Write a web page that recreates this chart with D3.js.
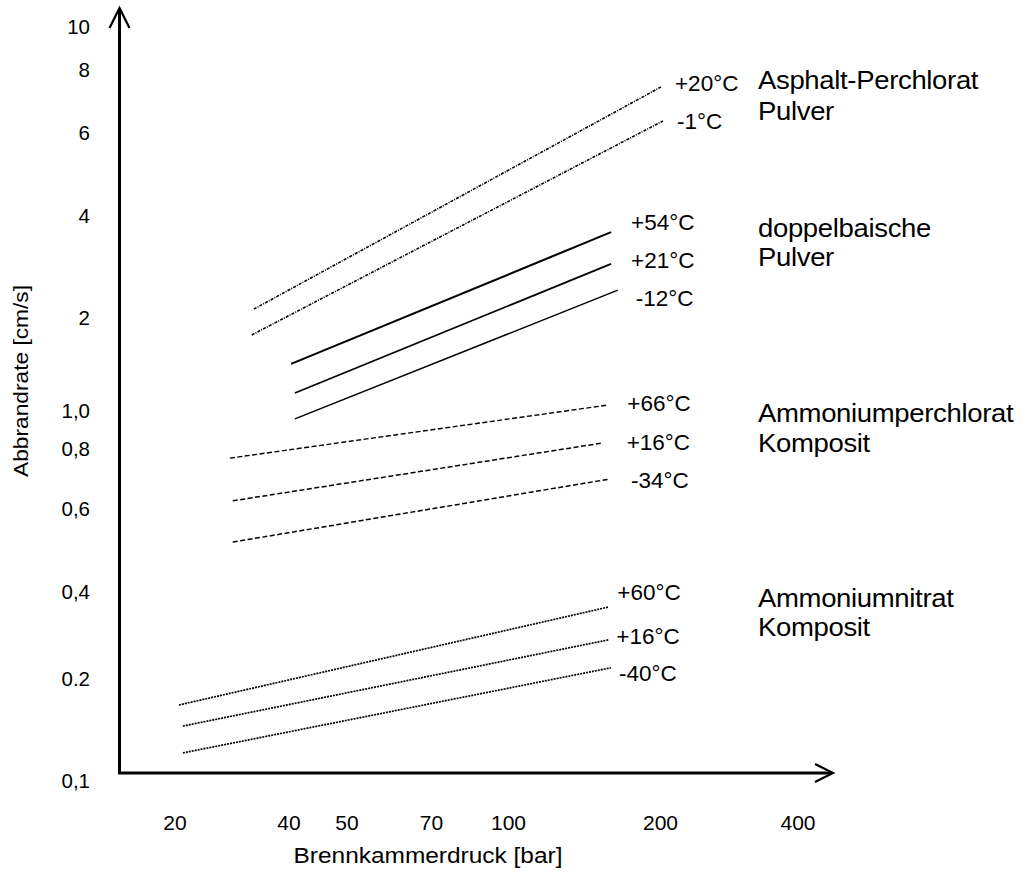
<!DOCTYPE html>
<html>
<head>
<meta charset="utf-8">
<script src="https://cdn.jsdelivr.net/npm/d3@7"></script>
<style>
  html, body { margin: 0; padding: 0; background: #fff; }
  svg { display: block; font-family: "Liberation Sans", Arial, sans-serif; }
</style>
</head>
<body>
<svg id="chart" width="1026" height="884"></svg>
<script>
// ---------------- data ----------------
const pressureTicks = [20, 40, 50, 70, 100, 200, 400];
const pressureTickLabels = ["20", "40", "50", "70", "100", "200", "400"];
const rateTicks = [0.1, 0.2, 0.4, 0.6, 0.8, 1, 2, 4, 6, 8, 10];
const rateTickLabels = ["0,1", "0.2", "0,4", "0,6", "0,8", "1,0", "2", "4", "6", "8", "10"];

const groupNames = [
  ["Asphalt-Perchlorat", "Pulver"],
  ["doppelbaische", "Pulver"],
  ["Ammoniumperchlorat", "Komposit"],
  ["Ammoniumnitrat", "Komposit"]
];

const seriesGroup = [0, 0, 1, 1, 1, 2, 2, 2, 3, 3, 3];
const seriesTemp = ["+20°C", "-1°C", "+54°C", "+21°C", "-12°C", "+66°C", "+16°C", "-34°C", "+60°C", "+16°C", "-40°C"];
const pressureStart = [32.4, 32.0, 40.4, 41.0, 41.0, 28.0, 28.5, 28.5, 20.55, 21.05, 21.05];
const pressureEnd   = [201, 203, 160, 160, 165, 158, 154, 158.5, 158, 158, 160];
const rateStart     = [2.11, 1.75, 1.41, 1.135, 0.949, 0.762, 0.621, 0.508, 0.1665, 0.1443, 0.1202];
const rateEnd       = [7.37, 6.31, 3.56, 2.87, 2.40, 1.038, 0.824, 0.689, 0.352, 0.271, 0.217];

// ---------------- layout ----------------
const svg = d3.select("#chart");
const originX = 119.5, originY = 773, axisTop = 8, axisRight = 833;

// hand-drawn, non-uniform logarithmic axes -> piecewise log scales
const x = d3.scaleLog()
  .domain(pressureTicks)
  .range([174.5, 288.5, 346.5, 431, 508, 660, 797.5]);
const y = d3.scaleLog()
  .domain(rateTicks)
  .range([780, 678, 591, 508, 448, 410, 317, 215, 132, 69, 26]);

const groupStyle = [
  { dash: "3 1.2 1 1.2", width: 1.6 },
  { dash: null, width: 1.7 },
  { dash: "5 2.5", width: 1.4 },
  { dash: "2 1", width: 1.7 }
];
const seriesWidth = [1.6, 1.6, 2.1, 1.8, 1.5, 1.4, 1.5, 1.5, 1.7, 1.7, 1.7];
const labelOffset = [
  [14, -4], [14, 0], [20, -10], [20, -4], [18, 8],
  [19, -2], [24, -1], [22, 1], [9, -15], [8, -4], [8, 5]
];
const groupLabelX = 758;
const groupLabelY = [[80, 111], [228, 257], [413, 443], [598, 627]];

// ---------------- axes frame ----------------
const frame = svg.append("g").attr("stroke", "#000").attr("fill", "none");
frame.append("path")
  .attr("d", `M${originX},${axisTop + 2}V${originY}H${axisRight - 2}`)
  .attr("stroke-width", 3).attr("stroke-linejoin", "miter");
frame.append("path")
  .attr("d", `M${originX - 10},${axisTop + 20}L${originX},${axisTop}L${originX + 10},${axisTop + 20}`)
  .attr("stroke-width", 2.2);
frame.append("path")
  .attr("d", `M${axisRight - 18},${originY - 9}L${axisRight},${originY}L${axisRight - 18},${originY + 9}`)
  .attr("stroke-width", 2.2);

// ---------------- tick labels via d3 axes ----------------
const yAxis = d3.axisLeft(y)
  .tickValues(rateTicks)
  .tickFormat((d, i) => rateTickLabels[i])
  .tickSize(0).tickPadding(0);
const gy = svg.append("g").attr("transform", "translate(90,0)").call(yAxis);
gy.select(".domain").remove();
gy.selectAll("text")
  .attr("font-size", 20.5).attr("font-family", "Liberation Sans, Arial, sans-serif")
  .attr("fill", "#000").attr("dy", "0.35em");

const xAxis = d3.axisBottom(x)
  .tickValues(pressureTicks)
  .tickFormat((d, i) => pressureTickLabels[i])
  .tickSize(0).tickPadding(0);
const gx = svg.append("g").attr("transform", "translate(0,823)").call(xAxis);
gx.select(".domain").remove();
gx.selectAll("text")
  .attr("font-size", 21).attr("font-family", "Liberation Sans, Arial, sans-serif")
  .attr("fill", "#000").attr("y", 0).attr("dy", "0.35em");

// axis titles
svg.append("text")
  .attr("x", 428).attr("y", 855).attr("dy", "0.35em")
  .attr("text-anchor", "middle").attr("font-size", 22)
  .attr("textLength", 269).attr("lengthAdjust", "spacingAndGlyphs")
  .text("Brennkammerdruck [bar]");
svg.append("text")
  .attr("transform", "translate(21,381) rotate(-90)")
  .attr("dy", "0.35em")
  .attr("text-anchor", "middle").attr("font-size", 20)
  .attr("textLength", 192).attr("lengthAdjust", "spacingAndGlyphs")
  .text("Abbrandrate [cm/s]");

// ---------------- series lines ----------------
const idx = d3.range(seriesTemp.length);
const line = d3.line().x(d => x(d[0])).y(d => y(d[1]));

svg.append("g").selectAll("path").data(idx).join("path")
  .attr("d", i => line([[pressureStart[i], rateStart[i]], [pressureEnd[i], rateEnd[i]]]))
  .attr("fill", "none").attr("stroke", "#000")
  .attr("stroke-width", i => seriesWidth[i])
  .attr("stroke-dasharray", i => groupStyle[seriesGroup[i]].dash);

// temperature labels at line ends
svg.append("g").selectAll("text").data(idx).join("text")
  .attr("x", i => x(pressureEnd[i]) + labelOffset[i][0])
  .attr("y", i => y(rateEnd[i]) + labelOffset[i][1])
  .attr("dy", "0.35em")
  .attr("font-size", 22.5)
  .text(i => seriesTemp[i]);

// group labels
const gl = svg.append("g");
groupNames.forEach((names, g) => {
  names.forEach((n, k) => {
    const gx0 = groupLabelX, gy0 = groupLabelY[g][k];
    gl.append("text")
      .attr("transform", `translate(${gx0},${gy0}) scale(1.1,1)`)
      .attr("dy", "0.35em")
      .attr("font-size", 25)
      .attr("letter-spacing", -0.3)
      .text(n);
  });
});
</script>
</body>
</html>
